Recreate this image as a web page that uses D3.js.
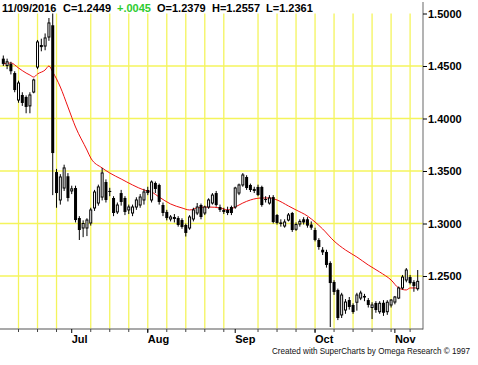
<!DOCTYPE html>
<html><head><meta charset="utf-8">
<script src="https://cdn.jsdelivr.net/npm/d3@7"></script>
<style>
body{margin:0;background:#fff}
svg{display:block}
text{font-family:"Liberation Sans",Arial,sans-serif}
</style>
</head><body>
<svg id="chart" width="478" height="365"></svg>
<script>
// ---- data ----
const dates = [
"2016-06-07","2016-06-08","2016-06-09","2016-06-10",
"2016-06-13","2016-06-14","2016-06-15","2016-06-16","2016-06-17",
"2016-06-20","2016-06-21","2016-06-22","2016-06-23","2016-06-24",
"2016-06-27","2016-06-28","2016-06-29","2016-06-30","2016-07-01",
"2016-07-05","2016-07-06","2016-07-07","2016-07-08",
"2016-07-11","2016-07-12","2016-07-13","2016-07-14","2016-07-15",
"2016-07-18","2016-07-19","2016-07-20","2016-07-21","2016-07-22",
"2016-07-25","2016-07-26","2016-07-27","2016-07-28","2016-07-29",
"2016-08-01","2016-08-02","2016-08-03","2016-08-04","2016-08-05",
"2016-08-08","2016-08-09","2016-08-10","2016-08-11","2016-08-12",
"2016-08-15","2016-08-16","2016-08-17","2016-08-18","2016-08-19",
"2016-08-22","2016-08-23","2016-08-24","2016-08-25","2016-08-26",
"2016-08-29","2016-08-30","2016-08-31","2016-09-01","2016-09-02",
"2016-09-06","2016-09-07","2016-09-08","2016-09-09",
"2016-09-12","2016-09-13","2016-09-14","2016-09-15","2016-09-16",
"2016-09-19","2016-09-20","2016-09-21","2016-09-22","2016-09-23",
"2016-09-26","2016-09-27","2016-09-28","2016-09-29","2016-09-30",
"2016-10-03","2016-10-04","2016-10-05","2016-10-06","2016-10-07",
"2016-10-10","2016-10-11","2016-10-12","2016-10-13","2016-10-14",
"2016-10-17","2016-10-18","2016-10-19","2016-10-20","2016-10-21",
"2016-10-24","2016-10-25","2016-10-26","2016-10-27","2016-10-28",
"2016-10-31","2016-11-01","2016-11-02","2016-11-03","2016-11-04",
"2016-11-07","2016-11-08","2016-11-09"];

const open = [
1.4570,1.4505,1.4520,1.4433,
1.4176,1.4224,1.4205,1.4120,1.4252,
1.4490,1.4700,1.4690,1.4776,1.4888,
1.3490,1.3224,1.3338,1.3450,1.3310,
1.3338,1.3052,1.2957,1.2957,
1.3005,1.3148,1.3195,1.3252,1.3395,
1.3310,1.3243,1.3110,1.3290,1.3243,
1.3129,1.3100,1.3157,1.3176,1.3224,
1.3319,1.3224,1.3386,1.3367,1.3176,
1.3110,1.3043,1.3062,1.3052,1.3033,
1.2986,1.2957,1.3043,1.3100,1.3176,
1.3100,1.3157,1.3195,1.3290,1.3157,
1.3129,1.3129,1.3157,1.3157,1.3290,
1.3367,1.3443,1.3367,1.3329,
1.3348,1.3348,1.3233,1.3195,1.3252,
1.3081,1.3010,1.2976,1.3033,1.3100,
1.2945,1.2995,1.3040,1.3040,1.2990,
1.2938,1.2843,1.2750,1.2729,1.2624,
1.2443,1.2367,1.2129,1.2176,1.2271,
1.2224,1.2250,1.2290,1.2310,1.2271,
1.2200,1.2243,1.2160,1.2245,1.2160,
1.2224,1.2252,1.2290,1.2386,1.2462,
1.2490,1.2443,1.2379];

const high = [
1.4600,1.4570,1.4540,1.4450,
1.4360,1.4250,1.4220,1.4250,1.4380,
1.4748,1.4760,1.4810,1.4957,1.5000,
1.3520,1.3470,1.3560,1.3480,1.3360,
1.3360,1.3070,1.3030,1.3050,
1.3150,1.3320,1.3370,1.3529,1.3420,
1.3340,1.3260,1.3200,1.3320,1.3260,
1.3180,1.3180,1.3250,1.3280,1.3330,
1.3350,1.3410,1.3400,1.3380,1.3200,
1.3130,1.3080,1.3090,1.3070,1.3050,
1.3000,1.3080,1.3150,1.3195,1.3190,
1.3170,1.3240,1.3290,1.3310,1.3180,
1.3150,1.3160,1.3170,1.3350,1.3380,
1.3480,1.3460,1.3380,1.3350,
1.3370,1.3360,1.3260,1.3270,1.3270,
1.3090,1.3040,1.3040,1.3100,1.3110,
1.3010,1.3040,1.3060,1.3060,1.3020,
1.2960,1.2860,1.2775,1.2750,1.2640,
1.2460,1.2380,1.2340,1.2280,1.2300,
1.2240,1.2340,1.2360,1.2330,1.2290,
1.2250,1.2260,1.2260,1.2270,1.2270,
1.2280,1.2310,1.2400,1.2510,1.2576,
1.2510,1.2460,1.2557];

const low = [
1.4500,1.4470,1.4420,1.4250,
1.4150,1.4120,1.4050,1.4050,1.4240,
1.4470,1.4640,1.4650,1.4740,1.3270,
1.3150,1.3180,1.3310,1.3210,1.3280,
1.3010,1.2843,1.2870,1.2880,
1.2980,1.3120,1.3170,1.3220,1.3200,
1.3260,1.3070,1.3090,1.3170,1.3080,
1.3090,1.3070,1.3130,1.3150,1.3180,
1.3270,1.3200,1.3290,1.3180,1.3070,
1.3030,1.3020,1.3010,1.2970,1.2950,
1.2876,1.2940,1.3020,1.3080,1.3040,
1.3080,1.3140,1.3180,1.3160,1.3110,
1.3090,1.3080,1.3080,1.3140,1.3270,
1.3350,1.3320,1.3300,1.3290,
1.3260,1.3160,1.3200,1.3180,1.3000,
1.2990,1.2970,1.2960,1.3020,1.2920,
1.2930,1.2970,1.2990,1.2960,1.2940,
1.2830,1.2750,1.2700,1.2580,1.2014,
1.2320,1.2080,1.2100,1.2140,1.2180,
1.2140,1.2170,1.2270,1.2260,1.2200,
1.2090,1.2150,1.2140,1.2120,1.2130,
1.2200,1.2230,1.2280,1.2370,1.2440,
1.2420,1.2350,1.2361];

const close = [
1.4520,1.4540,1.4450,1.4271,
1.4338,1.4148,1.4110,1.4224,1.4367,
1.4729,1.4680,1.4767,1.4910,1.3671,
1.3290,1.3443,1.3529,1.3243,1.3330,
1.3033,1.2938,1.3000,1.3033,
1.3129,1.3300,1.3348,1.3481,1.3224,
1.3300,1.3100,1.3176,1.3205,1.3110,
1.3157,1.3157,1.3224,1.3252,1.3300,
1.3290,1.3395,1.3329,1.3205,1.3100,
1.3052,1.3062,1.3043,1.2986,1.2967,
1.2910,1.3062,1.3129,1.3157,1.3062,
1.3157,1.3224,1.3271,1.3176,1.3129,
1.3110,1.3100,1.3100,1.3338,1.3367,
1.3462,1.3338,1.3319,1.3310,
1.3271,1.3176,1.3224,1.3243,1.3014,
1.3005,1.2995,1.3014,1.3081,1.2938,
1.2990,1.3020,1.3010,1.2980,1.2960,
1.2843,1.2776,1.2725,1.2605,1.2433,
1.2348,1.2100,1.2319,1.2252,1.2205,
1.2157,1.2319,1.2338,1.2295,1.2224,
1.2224,1.2176,1.2240,1.2150,1.2250,
1.2271,1.2300,1.2386,1.2490,1.2557,
1.2433,1.2404,1.2449];

// red moving-average line, read at selected dates
const maDates = ["2016-06-07","2016-06-09","2016-06-13","2016-06-15","2016-06-16","2016-06-17",
"2016-06-20","2016-06-22","2016-06-23","2016-06-24","2016-06-28","2016-06-30","2016-07-05",
"2016-07-08","2016-07-11","2016-07-14","2016-07-18","2016-07-21","2016-07-26","2016-07-29",
"2016-08-02","2016-08-04","2016-08-09","2016-08-12","2016-08-16","2016-08-18","2016-08-23",
"2016-08-26","2016-08-30","2016-09-01","2016-09-06","2016-09-08","2016-09-13","2016-09-15",
"2016-09-19","2016-09-22","2016-09-26","2016-09-29","2016-10-03","2016-10-05","2016-10-10",
"2016-10-13","2016-10-18","2016-10-21","2016-10-26","2016-10-31","2016-11-02","2016-11-04",
"2016-11-07","2016-11-09"];
const maValues = [1.4519,1.4529,1.4481,1.4433,1.4414,1.4395,
1.4424,1.4462,1.4500,1.4443,1.4300,1.4110,1.3919,
1.3700,1.3624,1.3529,1.3481,1.3424,1.3367,1.3319,
1.3300,1.3252,1.3186,1.3148,1.3129,1.3148,1.3157,
1.3148,1.3129,1.3157,1.3195,1.3224,1.3243,1.3243,
1.3224,1.3167,1.3129,1.3071,1.3014,1.2948,1.2833,
1.2748,1.2681,1.2605,1.2538,1.2462,1.2386,1.2367,
1.2386,1.2386];

const priceTicks = [1.25, 1.30, 1.35, 1.40, 1.45, 1.50];
const gridPrices = [1.25, 1.30, 1.35, 1.40, 1.45];
const weekTicks = ["2016-06-13","2016-06-20","2016-06-27","2016-07-11","2016-07-18","2016-07-25",
"2016-08-01","2016-08-08","2016-08-15","2016-08-22","2016-08-29","2016-09-12","2016-09-19",
"2016-09-26","2016-10-03","2016-10-10","2016-10-17","2016-10-24","2016-10-31","2016-11-07"];
const monthTicks = ["2016-07-01","2016-08-01","2016-09-01","2016-10-03","2016-11-01"];
const monthLabels = ["Jul","Aug","Sep","Oct","Nov"];

const header = [
  {t:"11/09/2016", c:"#000", x:2},
  {t:"C=1.2449", c:"#000", x:63},
  {t:"+.0045", c:"#2ecc2e", x:117},
  {t:"O=1.2379", c:"#000", x:157},
  {t:"H=1.2557", c:"#000", x:212},
  {t:"L=1.2361", c:"#000", x:266}
];
const footer = "Created with SuperCharts by Omega Research \u00A9 1997";

// ---- drawing ----
const svg = d3.select("#chart");
const plotL = 0, plotR = 423, plotT = 13.5, plotB = 328.5;
const x = d3.scalePoint().domain(dates).range([3.3, 417.7]);
const y = d3.scaleLinear().domain([1.2, 1.5]).range([plotB, plotT]);

svg.append("rect").attr("width",478).attr("height",365).attr("fill","#fff");

const grid = svg.append("g").attr("stroke","#f4f45c").attr("stroke-width",1.3);
grid.selectAll("line.v").data(weekTicks).join("line")
  .attr("x1",d=>x(d)).attr("x2",d=>x(d)).attr("y1",plotT).attr("y2",plotB);
grid.selectAll("line.h").data(gridPrices).join("line")
  .attr("x1",plotL).attr("x2",plotR).attr("y1",d=>y(d)).attr("y2",d=>y(d));

svg.append("defs").append("clipPath").attr("id","clip")
  .append("rect").attr("x",plotL).attr("y",0).attr("width",plotR-plotL).attr("height",plotB);

const bars = dates.map((d,i)=>({d,o:open[i],h:high[i],l:low[i],c:close[i]}));
const gC = svg.append("g").attr("clip-path","url(#clip)");

// moving average
const maData = maDates.map((d,i)=>({d,v:maValues[i]}));
gC.append("path").datum(maData)
  .attr("fill","none").attr("stroke","#ee1111").attr("stroke-width",1)
  .attr("d", d3.line().x(d=>x(d.d)).y(d=>y(d.v)).curve(d3.curveMonotoneX));

gC.selectAll("line.wick").data(bars).join("line")
  .attr("x1",d=>x(d.d)).attr("x2",d=>x(d.d))
  .attr("y1",d=>y(d.h)).attr("y2",d=>y(d.l))
  .attr("stroke","#000").attr("stroke-width",1);
gC.selectAll("rect.body").data(bars).join("rect")
  .each(function(d){
    const s = d3.select(this);
    const top = y(Math.max(d.o,d.c)), bot = y(Math.min(d.o,d.c));
    if (d.c >= d.o) {
      s.attr("x",x(d.d)-1).attr("width",2).attr("y",top).attr("height",Math.max(bot-top,1))
       .attr("fill","#fff").attr("stroke","#000").attr("stroke-width",1);
    } else {
      s.attr("x",x(d.d)-1.5).attr("width",3).attr("y",top).attr("height",Math.max(bot-top,1))
       .attr("fill","#000");
    }
  });

// right price axis
svg.append("line").attr("x1",plotR).attr("x2",plotR).attr("y1",2).attr("y2",329.5)
  .attr("stroke","#808080").attr("stroke-width",1.2);
const ya = svg.append("g").attr("transform",`translate(${plotR},0)`)
  .call(d3.axisRight(y).tickValues(priceTicks).tickFormat(d3.format(".4f")).tickSize(4).tickPadding(1));
ya.select(".domain").remove();
ya.selectAll(".tick line").attr("stroke","#000");
ya.selectAll("text").attr("font-size",11).attr("font-weight","bold").attr("fill","#000")
  .attr("font-family","'Liberation Sans',Arial,sans-serif");

// bottom time axis
svg.append("line").attr("x1",0).attr("x2",plotR).attr("y1",329).attr("y2",329)
  .attr("stroke","#555").attr("stroke-width",1.2);
svg.selectAll("line.wt").data(weekTicks).join("line")
  .attr("x1",d=>x(d)).attr("x2",d=>x(d)).attr("y1",329).attr("y2",332)
  .attr("stroke","#444").attr("stroke-width",1);
svg.selectAll("line.mt").data(monthTicks).join("line")
  .attr("x1",d=>x(d)).attr("x2",d=>x(d)).attr("y1",329).attr("y2",333)
  .attr("stroke","#000").attr("stroke-width",1);
svg.selectAll("text.mon").data(monthTicks).join("text")
  .attr("x",d=>x(d)).attr("y",343).text((d,i)=>monthLabels[i])
  .attr("font-size",11).attr("font-weight","bold").attr("fill","#000");

// header
svg.selectAll("text.hd").data(header).join("text")
  .attr("x",d=>d.x).attr("y",12).text(d=>d.t).attr("fill",d=>d.c)
  .attr("font-size",11).attr("font-weight","bold");

// footer
svg.append("text").attr("x",272).attr("y",354).text(footer)
  .attr("font-size",8.4).attr("fill","#111")
  .attr("textLength",198).attr("lengthAdjust","spacingAndGlyphs");
</script>
</body></html>
